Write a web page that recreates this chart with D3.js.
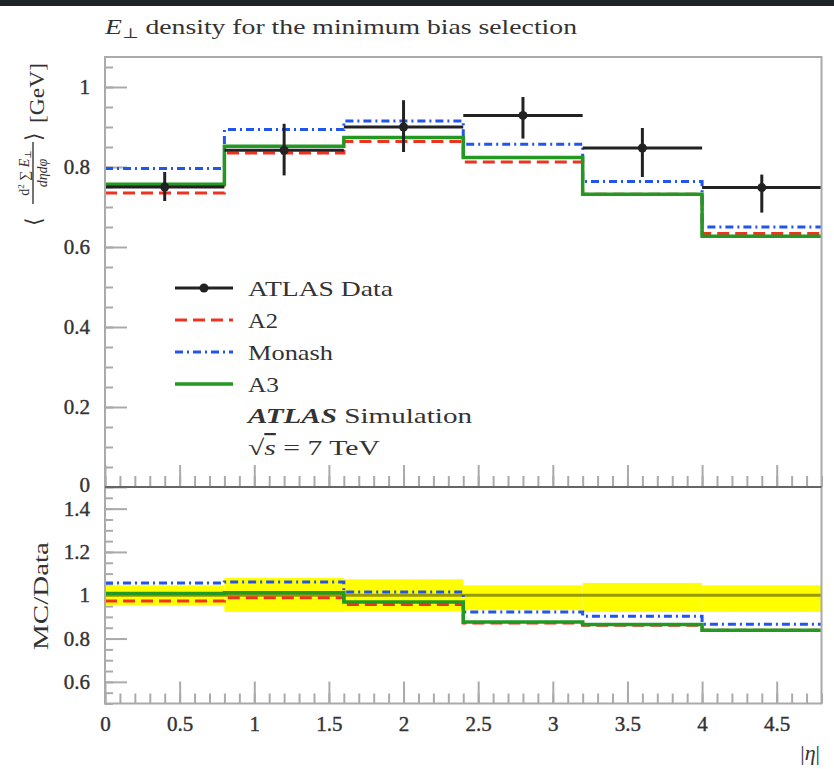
<!DOCTYPE html>
<html>
<head>
<meta charset="utf-8">
<script src="https://cdn.jsdelivr.net/npm/d3@7"></script>
<style>
  body { margin: 0; background: #fff; }
  svg { display: block; }
  text { font-family: 'Liberation Serif', 'DejaVu Serif', serif; fill: #333; }
</style>
</head>
<body>
<svg width="834" height="769"></svg>
<script>
const width = 834
const height = 769

// bin edges in |eta|
const binEdges = [0, 0.8, 1.6, 2.4, 3.2, 4.0, 4.8]
const binCenters = [0.4, 1.2, 2.0, 2.8, 3.6, 4.4]

// top panel: mean E_T density [GeV]
const dataValues = [0.750, 0.842, 0.900, 0.929, 0.8475, 0.7485]
const dataErrUp = [0.0375, 0.066, 0.067, 0.046, 0.050, 0.0325]
const dataErrDown = [0.035, 0.063, 0.0625, 0.058, 0.0725, 0.0625]
const a2Values = [0.735, 0.835, 0.864, 0.8125, 0.732, 0.6335]
const monashValues = [0.796, 0.8935, 0.915, 0.857, 0.764, 0.650]
const a3Values = [0.757, 0.852, 0.8735, 0.8235, 0.732, 0.627]

// bottom panel: MC / Data
const bandUp = [0.046, 0.080, 0.074, 0.046, 0.057, 0.046]
const bandDown = [0.046, 0.077, 0.074, 0.069, 0.077, 0.077]
const a2Ratio = [0.974, 0.989, 0.957, 0.872, 0.862, 0.838]
const monashRatio = [1.057, 1.061, 1.015, 0.923, 0.903, 0.866]
const a3Ratio = [1.008, 1.012, 0.969, 0.877, 0.865, 0.838]

// tick labels
const xTicks = [0, 0.5, 1, 1.5, 2, 2.5, 3, 3.5, 4, 4.5]
const yTopTicks = [0, 0.2, 0.4, 0.6, 0.8, 1]
const yBotTicks = [0.6, 0.8, 1, 1.2, 1.4]

const legendItems = ['ATLAS Data', 'A2', 'Monash', 'A3']

const colors = { data: '#222', a2: '#ee3322', monash: '#2255ee', a3: '#229922', frame: '#aaa' }
const serif = "'Liberation Serif', 'DejaVu Serif', serif"

const xScale = d3.scaleLinear().domain([0, 4.8]).range([105, 821.5])
const yTop = d3.scaleLinear().domain([0, 1.075]).range([487, 57])
const yBot = d3.scaleLinear().domain([0.5, 1.5]).range([703.5, 487])

const svg = d3.select('svg')
svg.append('rect').attr('width', width).attr('height', height).attr('fill', '#fff')
svg.append('rect').attr('width', width).attr('height', 6).attr('fill', '#1f2428')

// histogram as a step line
const stepLine = (vals, y) => {
  const pts = vals.map((v, i) => [binEdges[i], v])
  pts.push([binEdges[binEdges.length - 1], vals[vals.length - 1]])
  return d3.line().x(d => xScale(d[0])).y(d => y(d[1])).curve(d3.curveStepAfter)(pts)
}

const styleAxis = g => {
  g.attr('font-family', null)
  g.select('.domain').remove()
  g.selectAll('line').attr('stroke', colors.frame).attr('stroke-width', 2)
  g.selectAll('text').attr('font-size', 21).attr('fill', '#333')
    .attr('stroke', '#333').attr('stroke-width', 0.4)
    .style('font-family', serif)
}

// ---- axes, top panel
svg.append('g').attr('transform', 'translate(105,0)')
  .call(d3.axisLeft(yTop).tickValues(d3.range(0, 1.076, 0.05)).tickSizeInner(-8).tickSizeOuter(0).tickFormat(''))
  .call(styleAxis)
svg.append('g').attr('transform', 'translate(105,0)')
  .call(d3.axisLeft(yTop).tickValues(yTopTicks).tickSizeInner(-22).tickSizeOuter(0).tickPadding(15).tickFormat(d3.format('')))
  .call(styleAxis)
  .call(g => g.selectAll('text').filter(d => d === 0).attr('dy', '0.2em'))
svg.append('g').attr('transform', 'translate(0,487)')
  .call(d3.axisBottom(xScale).tickValues(d3.range(0, 4.81, 0.1)).tickSizeInner(-11).tickSizeOuter(0).tickFormat(''))
  .call(styleAxis)
svg.append('g').attr('transform', 'translate(0,487)')
  .call(d3.axisBottom(xScale).tickValues(xTicks).tickSizeInner(-22).tickSizeOuter(0).tickFormat(''))
  .call(styleAxis)

// ---- axes, bottom panel
svg.append('g').attr('transform', 'translate(105,0)')
  .call(d3.axisLeft(yBot).tickValues(d3.range(0.5, 1.5, 0.05)).tickSizeInner(-8).tickSizeOuter(0).tickFormat(''))
  .call(styleAxis)
svg.append('g').attr('transform', 'translate(105,0)')
  .call(d3.axisLeft(yBot).tickValues(yBotTicks).tickSizeInner(-22).tickSizeOuter(0).tickPadding(15).tickFormat(d3.format('')))
  .call(styleAxis)
svg.append('g').attr('transform', 'translate(0,703.5)')
  .call(d3.axisBottom(xScale).tickValues(d3.range(0, 4.81, 0.1)).tickSizeInner(-10).tickSizeOuter(0).tickFormat(''))
  .call(styleAxis)
svg.append('g').attr('transform', 'translate(0,703.5)')
  .call(d3.axisBottom(xScale).tickValues(xTicks).tickSizeInner(-22).tickSizeOuter(0).tickPadding(13).tickFormat(d3.format('')))
  .call(styleAxis)

// ---- top panel curves
const topPanel = svg.append('g')
topPanel.append('path').attr('d', stepLine(a2Values, yTop)).attr('fill', 'none')
  .attr('stroke', colors.a2).attr('stroke-width', 3).attr('stroke-dasharray', '12,6')
topPanel.append('path').attr('d', stepLine(monashValues, yTop)).attr('fill', 'none')
  .attr('stroke', colors.monash).attr('stroke-width', 3).attr('stroke-dasharray', '8,4,2,4')
topPanel.append('path').attr('d', stepLine(a3Values, yTop)).attr('fill', 'none')
  .attr('stroke', colors.a3).attr('stroke-width', 3.5)

// data points with x and y error bars
const pts = topPanel.selectAll('g.pt').data(dataValues).enter().append('g')
pts.append('line')
  .attr('x1', (d, i) => xScale(binEdges[i])).attr('x2', (d, i) => xScale(binEdges[i + 1]))
  .attr('y1', d => yTop(d)).attr('y2', d => yTop(d))
  .attr('stroke', colors.data).attr('stroke-width', 3)
pts.append('line')
  .attr('x1', (d, i) => xScale(binCenters[i])).attr('x2', (d, i) => xScale(binCenters[i]))
  .attr('y1', (d, i) => yTop(d + dataErrUp[i])).attr('y2', (d, i) => yTop(d - dataErrDown[i]))
  .attr('stroke', colors.data).attr('stroke-width', 3)
pts.append('circle')
  .attr('cx', (d, i) => xScale(binCenters[i])).attr('cy', d => yTop(d)).attr('r', 4.5)
  .attr('fill', colors.data)

// ---- bottom panel
const botPanel = svg.append('g')
botPanel.selectAll('rect.band').data(bandUp).enter().append('rect')
  .attr('x', (d, i) => xScale(binEdges[i])).attr('width', (d, i) => xScale(binEdges[i + 1]) - xScale(binEdges[i]))
  .attr('y', d => yBot(1 + d)).attr('height', (d, i) => yBot(1 - bandDown[i]) - yBot(1 + d))
  .attr('fill', '#ffff00')
botPanel.append('line').attr('x1', xScale(0)).attr('x2', xScale(4.8)).attr('y1', yBot(1)).attr('y2', yBot(1))
  .attr('stroke', '#000').attr('stroke-opacity', 0.4).attr('stroke-width', 3)
botPanel.append('path').attr('d', stepLine(a2Ratio, yBot)).attr('fill', 'none')
  .attr('stroke', colors.a2).attr('stroke-width', 3).attr('stroke-dasharray', '12,6')
botPanel.append('path').attr('d', stepLine(monashRatio, yBot)).attr('fill', 'none')
  .attr('stroke', colors.monash).attr('stroke-width', 3).attr('stroke-dasharray', '8,4,2,4')
botPanel.append('path').attr('d', stepLine(a3Ratio, yBot)).attr('fill', 'none')
  .attr('stroke', colors.a3).attr('stroke-width', 3.5)

// ---- frames
svg.append('path')
  .attr('d', `M105,487V57H821.5V703.5H105V487`)
  .attr('fill', 'none').attr('stroke', colors.frame).attr('stroke-width', 2)
svg.append('line').attr('x1', 105).attr('x2', 821.5).attr('y1', 487).attr('y2', 487)
  .attr('stroke', '#666').attr('stroke-width', 2)

// ---- title
const title = svg.append('text').attr('x', 105).attr('y', 34).attr('font-size', 22)
  .attr('textLength', 472).attr('lengthAdjust', 'spacingAndGlyphs')
title.append('tspan').attr('font-style', 'italic').text('E')
title.append('tspan').attr('font-size', 14).attr('dy', 4).text('⊥')
title.append('tspan').attr('dy', -4).text(' density for the minimum bias selection')

// ---- y label top panel
const yl = svg.append('g').attr('transform', 'translate(33,230) rotate(-90)')
yl.append('text').attr('x', 4).attr('y', 8).attr('font-size', 22).text('⟨')
yl.append('line').attr('x1', 26).attr('x2', 88).attr('y1', 0).attr('y2', 0)
  .attr('stroke', '#444').attr('stroke-width', 1.5)
const num = yl.append('text').attr('x', 57).attr('y', -4).attr('font-size', 14).attr('text-anchor', 'middle')
num.append('tspan').text('d')
num.append('tspan').attr('font-size', 9).attr('dy', -5).text('2')
num.append('tspan').attr('dy', 5).text(' ∑ ')
num.append('tspan').attr('font-style', 'italic').text('E')
num.append('tspan').attr('font-size', 9).attr('dy', 2).text('⊥')
yl.append('text').attr('x', 57).attr('y', 14).attr('font-size', 14).attr('text-anchor', 'middle')
  .attr('font-style', 'italic').text('dηdφ')
yl.append('text').attr('x', 89).attr('y', 8).attr('font-size', 22).text('⟩')
yl.append('text').attr('x', 107).attr('y', 11).attr('font-size', 22)
  .attr('textLength', 60).attr('lengthAdjust', 'spacingAndGlyphs').text('[GeV]')

// ---- y label bottom panel
svg.append('text').attr('transform', 'translate(48,596) rotate(-90)').attr('text-anchor', 'middle')
  .attr('font-size', 22).attr('textLength', 108).attr('lengthAdjust', 'spacingAndGlyphs').text('MC/Data')

// ---- x label
const xl = svg.append('text').attr('x', 820).attr('y', 760).attr('text-anchor', 'end').attr('font-size', 22)
xl.append('tspan').text('|')
xl.append('tspan').attr('font-style', 'italic').text('η')
xl.append('tspan').text('|')

// ---- legend
const legendY = [288, 320, 352, 384]
const legendWidths = [145, 30, 85, 31]
const legendStyles = [
  { stroke: colors.data, dash: null, w: 3 },
  { stroke: colors.a2, dash: '12,6', w: 3 },
  { stroke: colors.monash, dash: '8,4,2,4', w: 3 },
  { stroke: colors.a3, dash: null, w: 3.5 }
]
const leg = svg.append('g')
const rows = leg.selectAll('g').data(legendItems).enter().append('g')
rows.append('line').attr('x1', 175).attr('x2', 233)
  .attr('y1', (d, i) => legendY[i]).attr('y2', (d, i) => legendY[i])
  .attr('stroke', (d, i) => legendStyles[i].stroke)
  .attr('stroke-width', (d, i) => legendStyles[i].w)
  .attr('stroke-dasharray', (d, i) => legendStyles[i].dash)
rows.append('text').attr('x', 248).attr('y', (d, i) => legendY[i] + 7.5).attr('font-size', 22)
  .attr('textLength', (d, i) => legendWidths[i]).attr('lengthAdjust', 'spacingAndGlyphs')
  .text(d => d)
leg.append('circle').attr('cx', 204).attr('cy', legendY[0]).attr('r', 4.5).attr('fill', colors.data)

const sim = leg.append('text').attr('x', 248).attr('y', 423).attr('font-size', 22)
  .attr('textLength', 224).attr('lengthAdjust', 'spacingAndGlyphs')
sim.append('tspan').attr('font-weight', 'bold').attr('font-style', 'italic').text('ATLAS')
sim.append('tspan').text(' Simulation')

const ecm = leg.append('text').attr('x', 248).attr('y', 455).attr('font-size', 22)
  .attr('textLength', 132).attr('lengthAdjust', 'spacingAndGlyphs')
ecm.append('tspan').text('√')
ecm.append('tspan').attr('font-style', 'italic').attr('text-decoration', 'overline').text('s')
ecm.append('tspan').text(' = 7 TeV')
</script>
</body>
</html>
